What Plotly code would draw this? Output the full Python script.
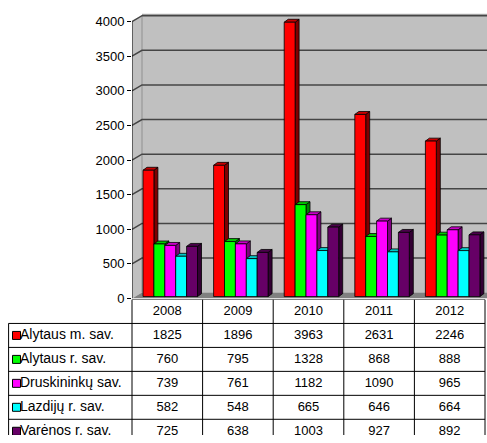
import plotly.graph_objects as go

# ---------------- data ----------------
years = ["2008", "2009", "2010", "2011", "2012"]
series_names = ["Alytaus m. sav.", "Alytaus r. sav.", "Druskininkų sav.",
                "Lazdijų r. sav.", "Varėnos r. sav."]
alytaus_m = [1825, 1896, 3963, 2631, 2246]
alytaus_r = [760, 795, 1328, 868, 888]
druskininku = [739, 761, 1182, 1090, 965]
lazdiju = [582, 548, 665, 646, 664]
varenos = [725, 638, 1003, 927, 892]
series_values = [alytaus_m, alytaus_r, druskininku, lazdiju, varenos]
y_ticks = [0, 500, 1000, 1500, 2000, 2500, 3000, 3500, 4000]

front_colors = ["#FF0000", "#00FF00", "#FF00FF", "#00FFFF", "#660066"]
top_colors = ["#C80000", "#00C800", "#C800C8", "#00C8C8", "#4C004C"]
side_colors = ["#800000", "#008000", "#800080", "#008080", "#330033"]

# ---------------- geometry (styling) ----------------
W, H = 487, 443
PXX = 70.6          # px per category
PXY = 0.0705        # px per value unit
X0 = -0.5
X_END = X0 + (W - 132) / PXX
BAR_W = 10.9 / PXX
BAR_OFF = 11.0 / PXX
BASE = 28
DDX = 4 / PXX
DDY = 3 / PXY
WDX = 10 / PXX
WDY = 6 / PXY
ROW_H = 24.4
X_LEFT = X0 - 124 / PXX

FONT = "Liberation Sans, Arial, sans-serif"

fig = go.Figure()

# ---------------- 3D bars as polygons ----------------
n = len(years)
for s, vals in enumerate(series_values):
    fx, fy, sx, sy, tx, ty = [], [], [], [], [], []
    for i, v in enumerate(vals):
        x0 = i + X0 + BAR_OFF + s * BAR_W
        x1 = x0 + BAR_W
        b = BASE
        t = BASE + v
        fx += [x0, x1, x1, x0, x0, None]
        fy += [b, b, t, t, b, None]
        sx += [x1, x1 + DDX, x1 + DDX, x1, x1, None]
        sy += [b, b + DDY, t + DDY, t, b, None]
        tx += [x0, x0 + DDX, x1 + DDX, x1, x0, None]
        ty += [t, t + DDY, t + DDY, t, t, None]
    for xs, ys, col in ((sx, sy, side_colors[s]), (tx, ty, top_colors[s]),
                        (fx, fy, front_colors[s])):
        fig.add_trace(go.Scatter(
            x=xs, y=ys, mode="lines", fill="toself", fillcolor=col,
            line=dict(color="black", width=0.8), hoverinfo="skip",
            showlegend=False, xaxis="x", yaxis="y"))

# ---------------- walls, floor, gridlines ----------------
shapes = []
ymax = y_ticks[-1]
shapes.append(dict(type="rect", xref="x", yref="y", layer="below",
                   x0=X0 + WDX, x1=X_END + 1, y0=WDY, y1=ymax + WDY,
                   fillcolor="#C0C0C0", line=dict(width=0)))
shapes.append(dict(type="path", xref="x", yref="y", layer="below",
                   path=f"M{X0},0 L{X0 + WDX},{WDY} L{X0 + WDX},{ymax + WDY} L{X0},{ymax} Z",
                   fillcolor="#C0C0C0", line=dict(width=0)))
shapes.append(dict(type="path", xref="x", yref="y", layer="below",
                   path=f"M{X0},0 L{X0 + WDX},{WDY} L{X_END + 1},{WDY} L{X_END + 1},0 Z",
                   fillcolor="#808080", line=dict(width=0)))
shapes.append(dict(type="line", xref="x", yref="y", layer="below",
                   x0=X0 + WDX, x1=X0 + WDX, y0=WDY, y1=ymax + WDY,
                   line=dict(color="#A0A0A0", width=1.5)))
shapes.append(dict(type="line", xref="x", yref="y", layer="below",
                   x0=X0 + WDX, x1=X_END + 1, y0=ymax + WDY + 20, y1=ymax + WDY + 20,
                   line=dict(color="#A0A0A0", width=2)))
for v in y_ticks[1:]:
    shapes.append(dict(type="path", xref="x", yref="y", layer="below",
                       path=f"M{X0},{v} L{X0 + WDX},{v + WDY} L{X_END + 1},{v + WDY}",
                       line=dict(color="#454545", width=1.5)))
shapes.append(dict(type="line", xref="x", yref="y", layer="above",
                   x0=X0, x1=X0, y0=0, y1=ymax, line=dict(color="black", width=1)))

# ---------------- table ----------------
nrows = len(series_names)
tbl_line = dict(color="black", width=1)
shapes.append(dict(type="line", xref="x2", yref="y2", x0=X0, x1=X0 + n, y0=0, y1=0,
                   line=tbl_line))
for r in range(1, nrows + 1):
    shapes.append(dict(type="line", xref="x2", yref="y2",
                       x0=X_LEFT + 0.5 / PXX, x1=X0 + n, y0=r, y1=r, line=tbl_line))
for k in range(n + 1):
    shapes.append(dict(type="line", xref="x2", yref="y2", x0=X0 + k, x1=X0 + k,
                       y0=0, y1=nrows + 2, line=tbl_line))
shapes.append(dict(type="line", xref="x2", yref="y2",
                   x0=X_LEFT + 0.6 / PXX, x1=X_LEFT + 0.6 / PXX, y0=1, y1=nrows + 2,
                   line=tbl_line))

fig.add_trace(go.Scatter(x=list(range(n)), y=[0.5] * n, text=years, mode="text",
                         textfont=dict(family=FONT, size=13, color="black"),
                         hoverinfo="skip", showlegend=False, xaxis="x2", yaxis="y2"))
vx, vy, vt = [], [], []
for s, vals in enumerate(series_values):
    for i, v in enumerate(vals):
        vx.append(i)
        vy.append(s + 1.5)
        vt.append(str(v))
fig.add_trace(go.Scatter(x=vx, y=vy, text=vt, mode="text",
                         textfont=dict(family=FONT, size=13, color="black"),
                         hoverinfo="skip", showlegend=False, xaxis="x2", yaxis="y2"))
fig.add_trace(go.Scatter(x=[X_LEFT + 8.5 / PXX] * nrows,
                         y=[s + 1.5 for s in range(nrows)], mode="markers",
                         marker=dict(symbol="square", size=8, color=front_colors,
                                     line=dict(color="black", width=1)),
                         hoverinfo="skip", showlegend=False, xaxis="x2", yaxis="y2"))
fig.add_trace(go.Scatter(x=[X_LEFT + 12 / PXX] * nrows,
                         y=[s + 1.5 for s in range(nrows)], text=series_names,
                         mode="text", textposition="middle right",
                         textfont=dict(family=FONT, size=14, color="black"),
                         hoverinfo="skip", showlegend=False, xaxis="x2", yaxis="y2"))

fig.update_layout(
    width=W, height=H,
    margin=dict(l=0, r=0, t=0, b=0),
    paper_bgcolor="white", plot_bgcolor="rgba(0,0,0,0)",
    showlegend=False,
    shapes=shapes,
    font=dict(family=FONT, size=13, color="black"),
    xaxis=dict(domain=[132 / W, 1], range=[X0, X_END], visible=False,
               showgrid=False, zeroline=False),
    yaxis=dict(domain=[(H - 304) / H, (H - 14) / H], range=[0, 290 / PXY],
               tickvals=y_ticks, ticktext=[str(v) for v in y_ticks],
               ticks="outside", ticklen=4, tickcolor="black", tickwidth=1,
               showgrid=False, zeroline=False, showline=False,
               tickfont=dict(family=FONT, size=13, color="black")),
    xaxis2=dict(domain=[8 / W, 1], range=[X_LEFT, X_END], visible=False,
                showgrid=False, zeroline=False, anchor="y2"),
    yaxis2=dict(domain=[0, (H - 305) / H], range=[(H - 305) / ROW_H, 0],
                visible=False, showgrid=False, zeroline=False, anchor="x2"),
)

fig.write_html("out.html", config={"displayModeBar": False},
               post_script="document.body.style.margin='0';"
                           "document.body.style.overflow='hidden';")
